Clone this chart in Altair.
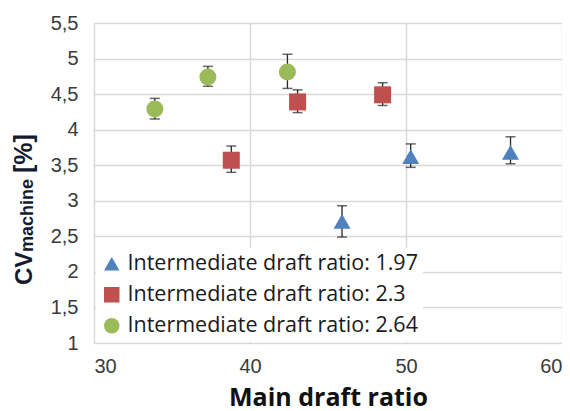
import altair as alt
import pandas as pd

series_names = [
    "Intermediate draft ratio: 1.97",
    "Intermediate draft ratio: 2.3",
    "Intermediate draft ratio: 2.64",
]
series_colors = ["#4F81BD", "#C0504D", "#9BBB59"]
series_shapes = ["triangle-up", "square", "circle"]

# main draft ratio (x), CV machine (y), error bar low / high
blue_x = [45.9, 50.3, 56.7]
blue_y = [2.71, 3.62, 3.68]
blue_lo = [2.49, 3.47, 3.52]
blue_hi = [2.93, 3.80, 3.90]

red_x = [38.8, 43.05, 48.5]
red_y = [3.57, 4.39, 4.49]
red_lo = [3.40, 4.24, 4.34]
red_hi = [3.77, 4.56, 4.66]

green_x = [33.9, 37.3, 42.4]
green_y = [4.29, 4.74, 4.81]
green_lo = [4.15, 4.61, 4.58]
green_hi = [4.44, 4.89, 5.06]

x_ticks = [30, 40, 50, 60]
y_ticks = [1, 1.5, 2, 2.5, 3, 3.5, 4, 4.5, 5, 5.5]
x_title = "Main draft ratio"
y_title_parts = ["CV", "machine", "[%]"]

rows = []
for name, xs, ys, los, his in [
    (series_names[0], blue_x, blue_y, blue_lo, blue_hi),
    (series_names[1], red_x, red_y, red_lo, red_hi),
    (series_names[2], green_x, green_y, green_lo, green_hi),
]:
    for a, b, c, d in zip(xs, ys, los, his):
        rows.append({"series": name, "x": a, "y": b, "lo": c, "hi": d})
df = pd.DataFrame(rows)

W, H = 468, 320

xscale = alt.Scale(domain=[30, 60], nice=False, zero=False)
yscale = alt.Scale(domain=[1, 5.5], nice=False, zero=False)

base = alt.Chart(df)

xaxis = alt.Axis(
    values=x_ticks, title=x_title, grid=True, gridColor="#D9D9D9", gridWidth=1.5,
    domain=False, ticks=False, labelFont="Liberation Sans", labelFontSize=20,
    labelColor="#3A3A3A", labelPadding=13, titleFont="Open Sans", titleFontWeight="bold",
    titleFontSize=25, titleColor="#111111", titleBaseline="alphabetic", titleY=62,
)
yaxis = alt.Axis(
    values=y_ticks, title=None, grid=True, gridColor="#D9D9D9", gridWidth=1.5,
    domain=False, ticks=False, labelFont="Liberation Sans", labelFontSize=20,
    labelColor="#3A3A3A", labelPadding=16, labelOverlap=False,
    labelExpr="replace(toString(datum.value), '.', ',')",
)

X = alt.X("x:Q", scale=xscale, axis=xaxis)

color = alt.Color("series:N", scale=alt.Scale(domain=series_names, range=series_colors),
                  legend=alt.Legend(title=None, orient="none", legendX=2, legendY=225,
                                    labelFont="Open Sans", labelFontSize=21.5, labelColor="#1A1A1A",
                                    labelLimit=400,
                                    symbolSize=240, symbolStrokeWidth=0, fillColor="white",
                                    padding=5, rowPadding=8, labelOffset=5))
shape = alt.Shape("series:N", scale=alt.Scale(domain=series_names, range=series_shapes))

bars = base.mark_rule(color="#262626", strokeWidth=1.3).encode(
    x=X,
    y=alt.Y("lo:Q", scale=yscale, axis=yaxis),
    y2="hi:Q",
)
cap_lo = base.mark_tick(color="#262626", orient="horizontal", size=10, thickness=1.5).encode(
    x=X, y=alt.Y("lo:Q", scale=yscale, axis=yaxis))
cap_hi = base.mark_tick(color="#262626", orient="horizontal", size=10, thickness=1.5).encode(
    x=X, y=alt.Y("hi:Q", scale=yscale, axis=yaxis))

points = base.mark_point(filled=True, opacity=1, size=290).encode(
    x=X, y=alt.Y("y:Q", scale=yscale, axis=yaxis),
    color=color, shape=shape,
)

tdf = pd.DataFrame({"t": y_title_parts})
ytitle_color = "#141B2E"
t_cv = alt.Chart(tdf.iloc[[0]]).mark_text(
    angle=270, align="left", baseline="alphabetic", font="Liberation Sans",
    fontWeight="bold", fontSize=24, color=ytitle_color,
).encode(text="t:N", x=alt.value(-62), y=alt.value(262))
t_sub = alt.Chart(tdf.iloc[[1]]).mark_text(
    angle=270, align="left", baseline="alphabetic", font="Liberation Sans",
    fontWeight="bold", fontSize=18, color=ytitle_color,
).encode(text="t:N", x=alt.value(-61), y=alt.value(229))
t_pct = alt.Chart(tdf.iloc[[2]]).mark_text(
    angle=270, align="left", baseline="alphabetic", font="Liberation Sans",
    fontWeight="bold", fontSize=25, color=ytitle_color,
).encode(text="t:N", x=alt.value(-62), y=alt.value(150))

chart = alt.layer(bars, cap_lo, cap_hi, points, t_cv, t_sub, t_pct).properties(
    width=W, height=H,
    autosize=alt.AutoSizeParams(type="none"),
    padding={"left": 86, "top": 15, "right": 0, "bottom": 68},
).configure_view(stroke="#1A1A1A", strokeWidth=2).configure(background="white")

chart.save("out.html", embed_options={"renderer": "svg", "actions": False})
